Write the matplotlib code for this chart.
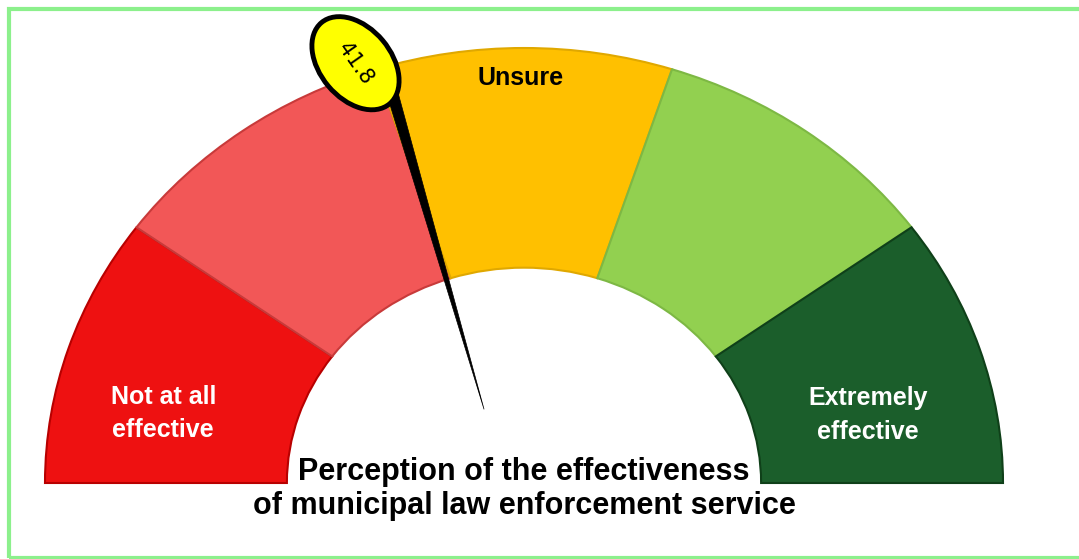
import numpy as np
import matplotlib
matplotlib.use("Agg")
import matplotlib.pyplot as plt
from matplotlib.patches import Wedge, Ellipse, Polygon, Rectangle
from matplotlib.transforms import ScaledTranslation

# gauge bands (0-100 scale) and the reading
band_edges = [0, 20, 40, 60, 80, 100]
band_colors = ["#EE1111", "#F25757", "#FFC000", "#92D050", "#1B5E2B"]
band_edgecolors = ["#B80000", "#C83A3A", "#E0A800", "#7DB844", "#0F4019"]
band_labels = ["Not at all\neffective", "", "Unsure", "", "Extremely\neffective"]
label_colors = ["white", "black", "black", "black", "white"]
value = 41.8
title = "Perception of the effectiveness\nof municipal law enforcement service"

# label placement as (angle in degrees, radius)
label_pos = [(168, 0.77), (0, 0), (90.5, 0.93), (0, 0), (12.3, 0.735)]

plt.rcParams['font.family'] = ['Liberation Sans', 'DejaVu Sans']

fig = plt.figure(figsize=(10.79, 5.59), dpi=100)
ax = fig.add_axes([0, 0, 1, 1])
ax.set_xlim(-524 / 479, (1079 - 524) / 479)
ax.set_ylim(-(559 - 483) / 435, 483 / 435)
ax.axis("off")

inner = 0.495


def to_angle(v):
    return 180 - 180 * v / 100.0


for i in range(len(band_colors)):
    t1 = to_angle(band_edges[i + 1])
    t2 = to_angle(band_edges[i])
    ax.add_patch(Wedge((0, 0), 1.0, t1, t2, width=1 - inner,
                       facecolor=band_colors[i], edgecolor=band_edgecolors[i],
                       linewidth=1.5))
    if band_labels[i]:
        a, r = label_pos[i]
        ax.text(r * np.cos(np.radians(a)), r * np.sin(np.radians(a)), band_labels[i],
                color=label_colors[i], fontsize=18, fontweight="bold",
                ha="center", va="center", linespacing=1.5)

# needle: thin black wedge, slightly offset from the hub
ang = np.radians(to_angle(value))
d = np.array([np.cos(ang), np.sin(ang)])
n = np.array([-np.sin(ang), np.cos(ang)])
shift = 0.0375 * n
base = 0.185 * d + shift
tip = 0.95 * d + shift
ax.add_patch(Polygon([base, tip + 0.012 * n, tip - 0.012 * n], closed=True,
                     facecolor="black", edgecolor="black", linewidth=0.5, zorder=5))

# value badge
badge = np.cos(ang) * 1.0 - 0.097, np.sin(ang) * 1.0 - 0.002
tr = fig.dpi_scale_trans + ScaledTranslation(badge[0], badge[1], ax.transData)
ax.add_patch(Ellipse((0, 0), 1.06, 0.71, angle=-50, transform=tr,
                     facecolor="#FFFF00", edgecolor="black", linewidth=3.5, zorder=6))
ax.text(badge[0], badge[1], f"{value:.1f}", rotation=-55, rotation_mode="anchor",
        ha="center", va="center", fontsize=15, color="black", zorder=7,
        family=["DejaVu Sans"])

ax.text(0, -0.014, title, ha="center", va="center", fontsize=22,
        fontweight="bold", color="black", linespacing=1.18)

# light green frame
fig.patches.append(Rectangle((9 / 1079, 1.5 / 559), 1.2, (557.5 - 9) / 559,
                             transform=fig.transFigure, fill=False,
                             edgecolor="#8CF08C", linewidth=3))

fig.savefig("out.png", dpi=100)
